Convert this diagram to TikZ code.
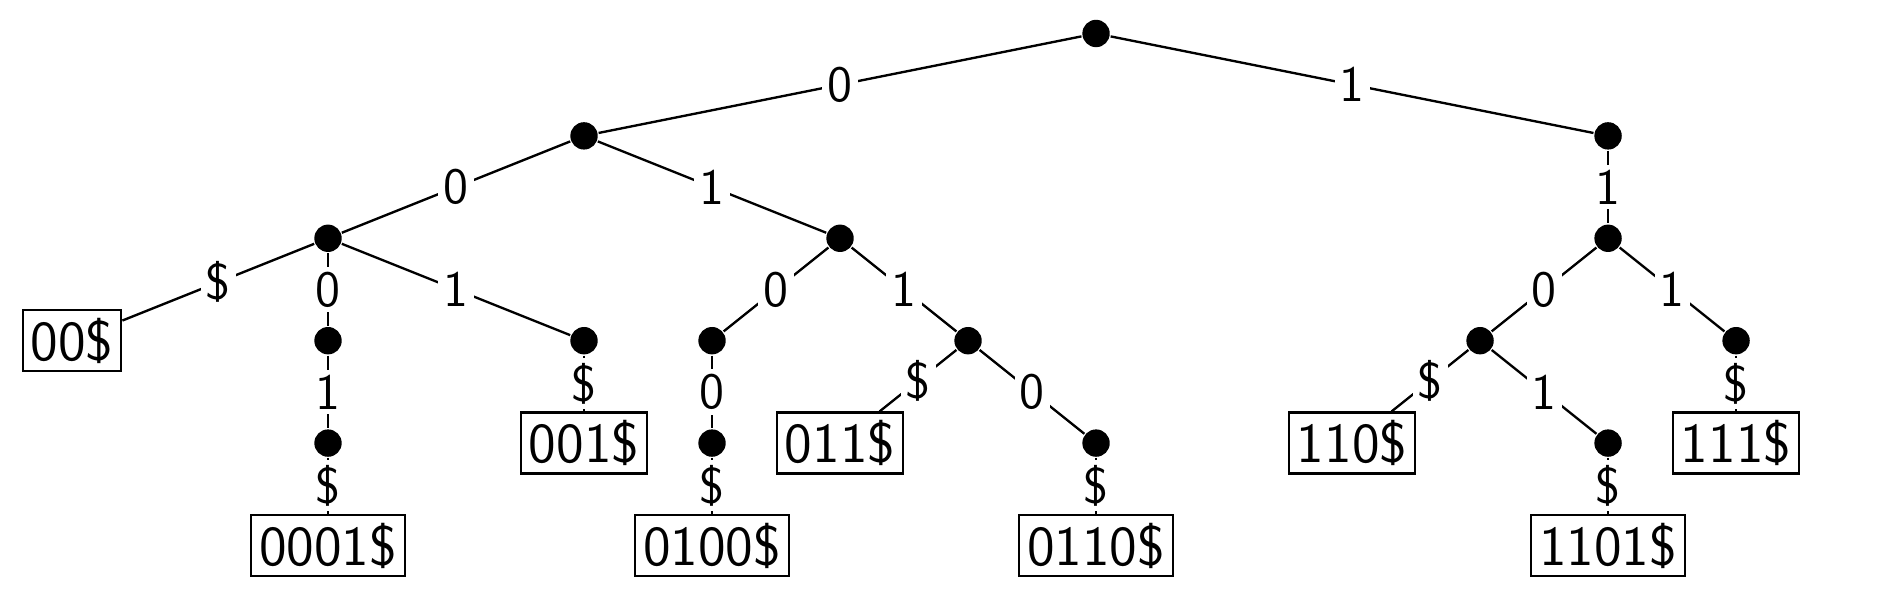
\documentclass[tikz,border=0pt]{standalone}
\begin{document}
\begin{tikzpicture}[x=1.15cm,y=0.92cm,font=\sffamily,semithick,
  pt/.style={circle,fill=black,inner sep=0pt,minimum size=7pt},
  mot/.style={draw,inner sep=2pt,font=\sffamily\Large},
  lettre/.style={fill=white,inner sep=1.3pt,font=\sffamily\fontsize{13}{15}\selectfont,midway}]
\useasboundingbox (-0.5625,0.327) rectangle (14.14,-5.637);
% les noeuds internes
\node[pt] (r) at (8,0) {};
\node[pt] (n0) at (4,-1) {};
\node[pt] (n1) at (12,-1) {};
\node[pt] (n00) at (2,-2) {};
\node[pt] (n01) at (6,-2) {};
\node[pt] (n11) at (12,-2) {};
\node[pt] (n000) at (2,-3) {};
\node[pt] (n001) at (4,-3) {};
\node[pt] (n010) at (5,-3) {};
\node[pt] (n011) at (7,-3) {};
\node[pt] (n110) at (11,-3) {};
\node[pt] (n111) at (13,-3) {};
\node[pt] (n0001) at (2,-4) {};
\node[pt] (n0100) at (5,-4) {};
\node[pt] (n0110) at (8,-4) {};
\node[pt] (n1101) at (12,-4) {};
% les feuilles
\node[mot] (f00) at (0,-3) {00\$};
\node[mot] (f001) at (4,-4) {001\$};
\node[mot] (f011) at (6,-4) {011\$};
\node[mot] (f110) at (10,-4) {110\$};
\node[mot] (f111) at (13,-4) {111\$};
\node[mot] (f0001) at (2,-5) {0001\$};
\node[mot] (f0100) at (5,-5) {0100\$};
\node[mot] (f0110) at (8,-5) {0110\$};
\node[mot] (f1101) at (12,-5) {1101\$};
% les aretes, etiquette au milieu
\draw (r) -- node[lettre]{0} (n0);
\draw (r) -- node[lettre]{1} (n1);
\draw (n0) -- node[lettre]{0} (n00);
\draw (n0) -- node[lettre]{1} (n01);
\draw (n1) -- node[lettre]{1} (n11);
\draw (n00) -- node[lettre]{\$} (f00);
\draw (n00) -- node[lettre]{0} (n000);
\draw (n00) -- node[lettre]{1} (n001);
\draw (n01) -- node[lettre]{0} (n010);
\draw (n01) -- node[lettre]{1} (n011);
\draw (n11) -- node[lettre]{0} (n110);
\draw (n11) -- node[lettre]{1} (n111);
\draw (n000) -- node[lettre]{1} (n0001);
\draw (n001) -- node[lettre]{\$} (f001);
\draw (n010) -- node[lettre]{0} (n0100);
\draw (n011) -- node[lettre]{\$} (f011);
\draw (n011) -- node[lettre]{0} (n0110);
\draw (n110) -- node[lettre]{\$} (f110);
\draw (n110) -- node[lettre]{1} (n1101);
\draw (n111) -- node[lettre]{\$} (f111);
\draw (n0001) -- node[lettre]{\$} (f0001);
\draw (n0100) -- node[lettre]{\$} (f0100);
\draw (n0110) -- node[lettre]{\$} (f0110);
\draw (n1101) -- node[lettre]{\$} (f1101);
\end{tikzpicture}
\end{document}
